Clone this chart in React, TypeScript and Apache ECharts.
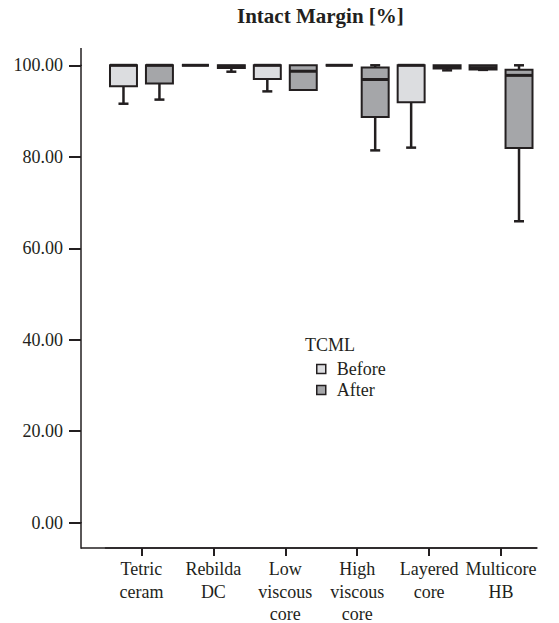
import React, { useEffect, useRef } from "react";
import * as echarts from "echarts";

const categories = [
  "Tetric\nceram",
  "Rebilda\nDC",
  "Low\nviscous\ncore",
  "High\nviscous\ncore",
  "Layered\ncore",
  "Multicore\nHB",
];

// [min, Q1, median, Q3, max]
const beforeStats = [
  [91.6, 95.4, 100, 100, 100],
  [100, 100, 100, 100, 100],
  [94.3, 97.0, 100, 100, 100],
  [100, 100, 100, 100, 100],
  [82.0, 91.9, 100, 100, 100],
  [99.0, 99.1, 99.5, 100, 100],
];

const afterStats = [
  [92.5, 96.0, 100, 100, 100],
  [98.6, 99.4, 99.8, 100, 100],
  [94.6, 94.6, 98.7, 100, 100],
  [81.4, 88.7, 96.9, 99.5, 100],
  [98.9, 99.3, 99.6, 100, 100],
  [65.9, 81.9, 97.8, 99.0, 100],
];

const yMin = 0;
const yMax = 100;
const yInterval = 20;

const INK = "#231f20";
const FONT = "Liberation Serif";

function makeRenderItem(offsetFrac: number, fill: string) {
  return (params: any, api: any) => {
    const idx = api.value(0);
    const band = api.size([1, 0])[0];
    const cx = api.coord([idx, 0])[0] + offsetFrac * band;
    const w = 0.375 * band;
    const capW = 10;
    const Y = (v: number) => api.coord([idx, v])[1];
    const vMin = api.value(1), q1 = api.value(2), med = api.value(3), q3 = api.value(4), vMax = api.value(5);
    const yLo = Y(vMin), yQ1 = Y(q1), yMed = Y(med), yQ3 = Y(q3), yHi = Y(vMax);
    const children: any[] = [];
    const lineStyle = { stroke: INK, lineWidth: 2.5 };
    if (vMax > q3) {
      children.push({ type: "line", shape: { x1: cx, y1: yHi, x2: cx, y2: yQ3 }, style: lineStyle });
      children.push({ type: "line", shape: { x1: cx - capW / 2, y1: yHi, x2: cx + capW / 2, y2: yHi }, style: lineStyle });
    }
    if (vMin < q1) {
      children.push({ type: "line", shape: { x1: cx, y1: yQ1, x2: cx, y2: yLo }, style: lineStyle });
      children.push({ type: "line", shape: { x1: cx - capW / 2, y1: yLo, x2: cx + capW / 2, y2: yLo }, style: lineStyle });
    }
    children.push({
      type: "rect",
      shape: { x: cx - w / 2, y: yQ3, width: w, height: yQ1 - yQ3 },
      style: { fill, stroke: INK, lineWidth: 2 },
    });
    children.push({
      type: "line",
      shape: { x1: cx - w / 2, y1: yMed, x2: cx + w / 2, y2: yMed },
      style: { stroke: INK, lineWidth: 3 },
    });
    return { type: "group", children };
  };
}

export default function App() {
  const ref = useRef<HTMLDivElement>(null);
  useEffect(() => {
    if (!ref.current) return;
    const chart = echarts.init(ref.current, null, { renderer: "svg" });
    const BEFORE_FILL = "#dcdde0";
    const AFTER_FILL = "#a5a6a9";
    chart.setOption({
      animation: false,
      backgroundColor: "#ffffff",
      title: {
        text: "Intact Margin [%]",
        left: 232,
        top: 0,
        textStyle: { fontFamily: FONT, fontSize: 21, fontWeight: "bold", color: INK },
      },
      grid: {
        left: 105.5,
        width: 431.5,
        top: 65.3,
        height: 457.4,
        containLabel: false,
        outerBoundsMode: "none",
      },
      legend: {
        orient: "vertical",
        left: 316,
        top: 360,
        padding: 0,
        itemWidth: 9,
        itemHeight: 9,
        itemGap: 3,
        selectedMode: false,
        data: [
          { name: "Before", icon: "rect" },
          { name: "After", icon: "rect" },
        ],
        itemStyle: { borderColor: INK, borderWidth: 1.5 },
        textStyle: { fontFamily: FONT, fontSize: 18, color: INK, padding: [0, 0, 0, 6] },
      },
      graphic: [
        {
          type: "text",
          left: 305,
          top: 336,
          style: { text: "TCML", fontFamily: FONT, fontSize: 18, fill: INK },
        },
        // axis-line extensions beyond the plotted value range
        { type: "line", shape: { x1: 81, y1: 548, x2: 537, y2: 548 }, style: { stroke: INK, lineWidth: 1.5 } },
        { type: "line", shape: { x1: 81, y1: 48, x2: 81, y2: 66 }, style: { stroke: INK, lineWidth: 1.5 } },
        { type: "line", shape: { x1: 81, y1: 522, x2: 81, y2: 548.7 }, style: { stroke: INK, lineWidth: 1.5 } },
      ],
      xAxis: {
        type: "category",
        data: categories,
        boundaryGap: true,
        position: "bottom",
        offset: 25.3,
        axisLine: { show: true, onZero: false, lineStyle: { color: INK, width: 1.5 } },
        axisTick: { show: true, alignWithLabel: true, length: 8, lineStyle: { color: INK, width: 2 } },
        axisLabel: {
          show: true,
          interval: 0,
          margin: 10,
          fontFamily: FONT,
          fontSize: 18,
          lineHeight: 22.5,
          color: INK,
        },
        splitLine: { show: false },
      },
      yAxis: {
        type: "value",
        min: yMin,
        max: yMax,
        interval: yInterval,
        offset: 24.5,
        axisLine: { show: true, lineStyle: { color: INK, width: 1.5 } },
        axisTick: { show: true, length: 12, lineStyle: { color: INK, width: 2 } },
        axisLabel: {
          margin: 18,
          fontFamily: FONT,
          fontSize: 18,
          color: INK,
          formatter: (v: number) => v.toFixed(2),
        },
        splitLine: { show: false },
      },
      series: [
        {
          name: "Before",
          type: "custom",
          itemStyle: { color: BEFORE_FILL },
          renderItem: makeRenderItem(-0.25, BEFORE_FILL),
          encode: { x: 0, y: [1, 2, 3, 4, 5] },
          data: beforeStats.map((s, i) => [i, ...s]),
        },
        {
          name: "After",
          type: "custom",
          itemStyle: { color: AFTER_FILL },
          renderItem: makeRenderItem(0.25, AFTER_FILL),
          encode: { x: 0, y: [1, 2, 3, 4, 5] },
          data: afterStats.map((s, i) => [i, ...s]),
        },
      ],
    });
    return () => chart.dispose();
  }, []);
  return (
    <div
      ref={ref}
      style={{ position: "fixed", left: 0, top: 0, width: 559, height: 623 }}
    />
  );
}
